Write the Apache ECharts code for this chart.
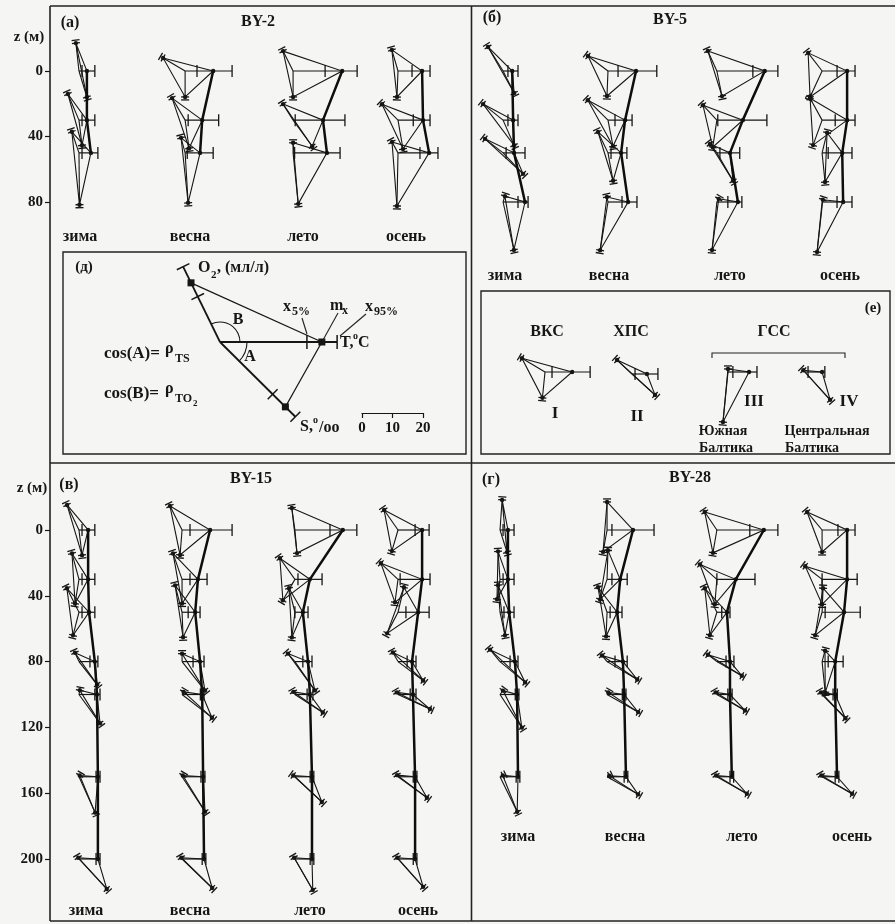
<!DOCTYPE html>
<html>
<head>
<meta charset="utf-8">
<script src="https://cdn.jsdelivr.net/npm/echarts@6/dist/echarts.min.js"></script>
<style>
html, body { margin: 0; padding: 0; background: #f5f5f3; }
#chart { width: 895px; height: 924px; }
</style>
</head>
<body>
<div id="chart"></div>
<script>
var seasons = ['зима', 'весна', 'лето', 'осень'];

// rows: depth (м), T mean, T 5%, T 95% (°C), S mean (‰), O2 mean (мл/л), rTS, rTO2
var by2Zima = [
    [0, 2.6, 1.0, 5.2, 8.9, 9.2, 0.29, -0.11],
    [30, 2.6, 1.0, 5.2, 8.3, 9.3, 0.12, -0.39],
    [50, 3.9, 1.0, 6.2, 17.0, 7.3, 0.01, -0.32]
];
var by2Vesna = [
    [0, 9.2, 3.9, 15.4, 8.5, 8.4, 0.0, -0.86],
    [30, 5.6, 1.0, 11.0, 9.3, 8.4, 0.14, -0.51],
    [50, 4.9, 0.7, 9.2, 16.4, 5.1, 0.06, -0.26]
];
var by2Leto = [
    [0, 16.1, 10.5, 21.0, 8.5, 7.3, 0.0, -0.45],
    [30, 9.8, 0.7, 17.0, 10.6, 6.2, 0.59, -0.53],
    [50, 11.1, 0.5, 15.4, 16.8, 3.3, 0.1, 0.0]
];
var by2Osen = [
    [0, 7.9, 4.6, 10.5, 8.5, 7.2, -0.04, -0.28],
    [30, 8.2, 5.0, 10.5, 9.6, 7.4, 0.17, -0.71],
    [50, 10.2, 7.2, 13.1, 17.4, 4.1, -0.02, -0.48]
];

var by5Zima = [
    [0, 3.0, 1.6, 4.9, 8.1, 9.3, 0.45, -0.53],
    [30, 3.3, 1.6, 4.9, 9.0, 8.4, 0.40, -0.78],
    [50, 3.6, 1.0, 7.2, 9.5, 7.5, 0.69, -0.79],
    [80, 7.2, 4.9, 8.2, 16.1, 2.0, 0.22, 0.3]
];
var by5Vesna = [
    [0, 9.2, 3.3, 16.0, 8.2, 8.2, -0.04, -0.8],
    [30, 5.6, 2.3, 7.9, 8.7, 9.3, 0.19, -0.71],
    [50, 4.3, 1.0, 6.2, 9.3, 7.6, 0.18, -0.43],
    [80, 6.6, 4.6, 9.5, 16.0, 1.7, -0.16, -0.2]
];
var by5Leto = [
    [0, 15.7, 11.8, 20.0, 8.4, 7.2, 0.2, -0.41],
    [30, 8.5, 0.3, 16.4, 9.0, 6.7, -0.15, -0.68],
    [50, 4.3, 1.0, 7.5, 10.6, 3.7, 0.5, -0.61],
    [80, 6.9, 3.6, 8.2, 15.8, 1.2, -0.1, 0.5]
];
var by5Osen = [
    [0, 8.2, 4.9, 10.8, 9.4, 7.5, -0.42, -0.61],
    [30, 8.2, 4.3, 10.8, 8.7, 8.2, -0.34, -0.48],
    [50, 6.6, 2.0, 9.8, 9.6, 6.8, 0.1, 0.24],
    [80, 6.9, 4.9, 9.8, 16.5, 0.8, -0.1, 0.3]
];

var by15Zima = [
    [0, 3.0, 1.0, 5.2, 8.3, 9.1, 0.12, -0.43],
    [30, 3.0, 1.0, 5.2, 8.0, 8.8, -0.16, -0.26],
    [50, 3.3, 1.0, 5.2, 7.8, 8.8, -0.25, -0.45],
    [80, 5.2, 3.6, 6.2, 9.6, 3.2, 0.62, -0.41],
    [100, 5.9, 5.2, 6.9, 11.7, 1.4, 0.59, 0.2],
    [150, 6.2, 5.6, 6.9, 12.9, 0.5, 0.41, 0.5],
    [200, 6.2, 5.6, 6.9, 13.4, 0.5, 0.68, -0.5]
];
var by15Vesna = [
    [0, 9.2, 2.6, 16.4, 8.2, 8.8, -0.08, -0.45],
    [30, 5.2, 2.6, 8.2, 7.9, 9.0, 0.0, -0.33],
    [50, 4.3, 2.0, 5.9, 8.2, 9.1, 0.04, -0.25],
    [80, 5.9, 3.6, 7.2, 12.1, 2.6, 0.62, 0.0],
    [100, 6.6, 6.0, 7.2, 12.4, 1.0, 0.79, 0.5],
    [150, 6.9, 6.2, 7.5, 13.7, 0.5, 0.55, 0.5],
    [200, 7.2, 6.6, 7.8, 13.7, 0.5, 0.72, -0.5]
];
var by15Leto = [
    [0, 15.7, 11.5, 20.3, 7.6, 7.3, 0.09, -0.14],
    [30, 4.9, 1.0, 8.9, 7.9, 8.5, -0.5, -0.58],
    [50, 2.6, 0.0, 4.3, 8.3, 8.1, -0.12, -0.24],
    [80, 4.3, 2.6, 5.6, 11.5, 3.5, 0.57, -0.66],
    [100, 4.9, 4.0, 5.9, 10.9, 1.0, 0.84, -0.5],
    [150, 5.6, 5.0, 6.2, 12.1, 0.7, 0.73, -0.8],
    [200, 5.6, 5.0, 6.2, 11.7, 0.5, 0.5, -0.5]
];
var by15Osen = [
    [0, 7.9, 5.6, 10.2, 7.2, 8.0, -0.28, -0.57],
    [30, 7.9, 0.7, 10.5, 7.6, 7.7, -0.13, -0.73],
    [50, 6.6, 2.6, 10.2, 7.8, 8.4, -0.46, 0.23],
    [80, 4.6, 3.0, 5.9, 10.3, 3.4, 0.8, -0.49],
    [100, 4.9, 4.0, 5.9, 11.5, 0.8, 0.91, -0.5],
    [150, 5.6, 5.0, 6.2, 11.7, 0.6, 0.81, -0.5],
    [200, 5.6, 5.0, 6.2, 12.3, 0.5, 0.67, -0.5]
];

var by28Zima = [
    [0, 2.6, 1.0, 4.6, 7.6, 9.9, 0.3, 0.07],
    [30, 2.6, 1.0, 4.6, 6.6, 9.2, -0.15, -0.07],
    [50, 3.0, 1.3, 4.6, 7.7, 8.9, 0.21, -0.07],
    [80, 4.9, 3.3, 5.9, 10.7, 5.1, 0.77, -0.64],
    [100, 5.6, 5.0, 6.2, 13.0, 1.6, 0.55, 0.6],
    [150, 5.9, 5.3, 6.5, 12.8, 1.0, 0.44, 0.9]
];
var by28Vesna = [
    [0, 8.5, 1.6, 15.4, 7.3, 9.2, -0.18, 0.0],
    [30, 4.3, 1.6, 6.6, 7.0, 9.5, -0.33, 0.03],
    [50, 3.3, 1.0, 4.9, 7.9, 8.7, -0.04, -0.34],
    [80, 5.2, 2.6, 6.6, 11.5, 2.6, 0.86, -0.64],
    [100, 5.6, 5.0, 6.2, 11.7, 0.8, 0.87, 0.5],
    [150, 6.2, 5.6, 6.8, 11.7, 0.8, 0.87, 0.9]
];
var by28Leto = [
    [0, 15.4, 10.8, 20.0, 7.6, 7.1, -0.17, -0.56],
    [30, 6.2, 0.0, 12.5, 8.2, 7.4, -0.08, -0.75],
    [50, 3.3, 1.6, 4.3, 7.9, 8.8, -0.29, -0.45],
    [80, 4.3, 3.0, 5.6, 9.4, 3.7, 0.87, -0.79],
    [100, 4.3, 3.6, 5.0, 10.6, 0.8, 0.87, -0.5],
    [150, 4.9, 4.3, 5.5, 11.3, 0.5, 0.87, -0.5]
];
var by28Osen = [
    [0, 8.2, 5.2, 10.8, 7.2, 7.7, 0.0, -0.64],
    [30, 8.2, 0.0, 11.5, 8.2, 7.0, 0.0, -0.79],
    [50, 7.2, 1.0, 12.5, 7.9, 7.9, -0.29, 0.04],
    [80, 4.3, 2.0, 6.9, 10.2, 3.7, 0.1, 0.26],
    [100, 4.3, 3.6, 5.0, 10.9, 0.8, 0.7, -0.5],
    [150, 4.9, 4.3, 5.5, 11.3, 0.5, 0.87, -0.5]
];

// water masses (е): T, T 5%, T 95%, S, O2, rTS, rTO2
var waterMassNames = ['I', 'II', 'III', 'IV'];
var waterMassGlyphs = [
    [8.9, 2.3, 14.8, 8.5, 8.8, -0.1, -0.86],
    [4.9, 1.0, 8.5, 10.2, 6.7, 0.74, -0.73],
    [6.9, 1.6, 9.5, 16.5, 1.0, -0.1, 0.0],
    [5.6, 1.0, 6.5, 12.3, 0.8, 0.67, -0.7]
];

// legend glyph (д): 5%, mean, 95%
var schemaT = [28.5, 33.4, 38.4];
var schemaS = [24.3, 30.2, 34.8];
var schemaO2 = [16.6, 21.6, 27.5];
var schemaR = [0.71, -0.44]; // rTS, rTO2

var scaleTicks = [0, 10, 20];

// ---- layout ----
var UNIT = 3.05;           // px per unit of T, S, O2
var INK = '#161616';
var FONT = '"Liberation Serif", "DejaVu Serif", serif';

var grids = [
    {left: 50, top: 5.5, width: 427, height: 262},      // а
    {left: 475, top: 5.5, width: 421, height: 262},     // б
    {left: 50, top: 464.2, width: 427, height: 460.6},  // в
    {left: 475, top: 464.2, width: 421, height: 460.6}, // г
    {left: 63, top: 252, width: 403, height: 202},      // д
    {left: 481, top: 291, width: 409, height: 163},     // е
    {left: 362, top: 412, width: 61, height: 1}         // scale bar
];
var basesA = [9.5, 44.3, 79.7, 114.1];
var basesB = [9.2, 43.6, 79.3, 113.8];
var basesV = [9.5, 43.3, 80.3, 114.1];
var basesG = [8.2, 43.3, 79.3, 113.8];
var waterMassAt = [[545, 372], [632, 374], [728, 372], [805, 372]];
var schemaAt = [220, 342];

function seg(a, b, w) {
    return {type: 'line', shape: {x1: a[0], y1: a[1], x2: b[0], y2: b[1]},
        style: {stroke: INK, lineWidth: w || 1.1}};
}

function drawGlyph(cx, cy, u, T, T5, T95, S, O2, rTS, rTO2) {
    var tEnd = [cx + T * u, cy];
    var sDir = [rTS, Math.sqrt(Math.max(0, 1 - rTS * rTS))];
    var oDir = [rTO2, -Math.sqrt(Math.max(0, 1 - rTO2 * rTO2))];
    var sEnd = [cx + sDir[0] * S * u, cy + sDir[1] * S * u];
    var oEnd = [cx + oDir[0] * O2 * u, cy + oDir[1] * O2 * u];
    var c = [cx, cy];
    var ch = [];
    ch.push(seg(c, [cx + Math.max(T, T95) * u, cy], 1.2));
    ch.push(seg(c, sEnd));
    ch.push(seg(c, oEnd));
    ch.push({type: 'polygon', shape: {points: [oEnd, tEnd, sEnd]},
        style: {stroke: INK, fill: 'none', lineWidth: 1.1}});
    [T5, T95].forEach(function (v) {
        var x = cx + v * u;
        ch.push(seg([x, cy - 6], [x, cy + 6], 1.3));
    });
    [[sEnd, sDir], [oEnd, oDir]].forEach(function (p) {
        var e = p[0], d = p[1], n = [-d[1], d[0]];
        for (var k = 0; k < 2; k++) {
            var q = [e[0] + d[0] * 3 * k, e[1] + d[1] * 3 * k];
            ch.push(seg([q[0] - n[0] * 4, q[1] - n[1] * 4], [q[0] + n[0] * 4, q[1] + n[1] * 4], 1.3));
        }
    });
    [tEnd, sEnd, oEnd].forEach(function (p) {
        ch.push({type: 'circle', shape: {cx: p[0], cy: p[1], r: 2.2}, style: {fill: INK}});
    });
    return {type: 'group', children: ch};
}

function renderGlyph(params, api) {
    var c = api.coord([api.value(0), api.value(1)]);
    var u = api.size([1, 0])[0];
    return drawGlyph(c[0], c[1], u, api.value(2), api.value(3), api.value(4),
        api.value(5), api.value(6), api.value(7), api.value(8));
}

function renderSchema(params, api) {
    var c = api.coord([api.value(0), api.value(1)]);
    var u = api.size([1, 0])[0];
    var cx = c[0], cy = c[1];
    var rays = [
        [schemaT, [1, 0]],
        [schemaS, [schemaR[0], Math.sqrt(1 - schemaR[0] * schemaR[0])]],
        [schemaO2, [schemaR[1], -Math.sqrt(1 - schemaR[1] * schemaR[1])]]
    ];
    var ch = [], means = [];
    rays.forEach(function (r) {
        var v = r[0], d = r[1], n = [-d[1], d[0]];
        var at = function (len) { return [cx + d[0] * len * u, cy + d[1] * len * u]; };
        ch.push(seg(c, at(v[2]), 1.8));
        [v[0], v[2]].forEach(function (len) {
            var p = at(len);
            ch.push(seg([p[0] - n[0] * 7, p[1] - n[1] * 7], [p[0] + n[0] * 7, p[1] + n[1] * 7], 1.5));
        });
        var m = at(v[1]);
        means.push(m);
        ch.push({type: 'rect', shape: {x: m[0] - 3.5, y: m[1] - 3.5, width: 7, height: 7}, style: {fill: INK}});
    });
    ch.push(seg(means[2], means[0], 1.2));
    ch.push(seg(means[0], means[1], 1.2));
    var aA = Math.acos(schemaR[0]), aB = Math.acos(schemaR[1]);
    ch.push({type: 'arc', shape: {cx: cx, cy: cy, r: 20, startAngle: -aB, endAngle: 0, clockwise: true},
        style: {stroke: INK, fill: 'none', lineWidth: 1.1}});
    ch.push({type: 'arc', shape: {cx: cx, cy: cy, r: 27, startAngle: 0, endAngle: aA, clockwise: true},
        style: {stroke: INK, fill: 'none', lineWidth: 1.1}});
    return {type: 'group', children: ch};
}

function panelSeries(gi, bases, seasonRows) {
    var out = [], data = [];
    seasonRows.forEach(function (rows, k) {
        rows.forEach(function (r) {
            data.push([bases[k], r[0], r[1], r[2], r[3], r[4], r[5], r[6], r[7]]);
        });
        out.push({
            type: 'line', xAxisIndex: gi, yAxisIndex: gi, silent: true, z: 4,
            symbol: 'none', lineStyle: {color: '#0e0e0e', width: 2.5},
            data: rows.map(function (r) { return [bases[k] + r[1], r[0]]; })
        });
    });
    out.unshift({type: 'custom', xAxisIndex: gi, yAxisIndex: gi, silent: true, z: 3,
        encode: {x: 0, y: 1}, data: data, renderItem: renderGlyph});
    return out;
}

function toUnits(gi, p) {
    return [(p[0] - grids[gi].left) / UNIT, (p[1] - grids[gi].top) / UNIT];
}

var series = [].concat(
    panelSeries(0, basesA, [by2Zima, by2Vesna, by2Leto, by2Osen]),
    panelSeries(1, basesB, [by5Zima, by5Vesna, by5Leto, by5Osen]),
    panelSeries(2, basesV, [by15Zima, by15Vesna, by15Leto, by15Osen]),
    panelSeries(3, basesG, [by28Zima, by28Vesna, by28Leto, by28Osen])
);
series.push({
    type: 'custom', xAxisIndex: 4, yAxisIndex: 4, silent: true, z: 3,
    encode: {x: 0, y: 1}, data: [toUnits(4, schemaAt)], renderItem: renderSchema
});
series.push({
    type: 'custom', xAxisIndex: 5, yAxisIndex: 5, silent: true, z: 3,
    encode: {x: 0, y: 1}, renderItem: renderGlyph,
    data: waterMassGlyphs.map(function (g, i) { return toUnits(5, waterMassAt[i]).concat(g); })
});

var labelFont = {fontFamily: FONT, fontWeight: 'bold', fontSize: 15, color: INK};
function depthAxis(gi, max, ticks, show) {
    return {
        gridIndex: gi, type: 'value', min: -40, max: max, inverse: true, show: show,
        axisLine: {show: false}, splitLine: {show: false},
        axisTick: {show: true, customValues: ticks, length: 5, lineStyle: {color: INK, width: 1.2}},
        axisLabel: Object.assign({customValues: ticks, margin: 7}, labelFont)
    };
}

var xAxes = grids.slice(0, 6).map(function (g, i) {
    return {gridIndex: i, type: 'value', min: 0, max: g.width / UNIT, show: false};
});
xAxes.push({
    gridIndex: 6, type: 'value', min: scaleTicks[0], max: scaleTicks[2], interval: 10, position: 'bottom',
    axisLine: {show: true, lineStyle: {color: INK, width: 1.2}},
    axisTick: {show: true, length: 5, lineStyle: {color: INK, width: 1.2}},
    axisLabel: Object.assign({margin: 8}, labelFont), splitLine: {show: false}
});
var yAxes = [
    depthAxis(0, 120, [0, 40, 80], true),
    depthAxis(1, 120, [0, 40, 80], false),
    depthAxis(2, 240, [0, 40, 80, 120, 160, 200], true),
    depthAxis(3, 240, [0, 40, 80, 120, 160, 200], false),
    {gridIndex: 4, type: 'value', min: 0, max: grids[4].height / UNIT, inverse: true, show: false},
    {gridIndex: 5, type: 'value', min: 0, max: grids[5].height / UNIT, inverse: true, show: false},
    {gridIndex: 6, type: 'value', min: 0, max: 1, show: false}
];

// ---- annotations ----
function txt(s, x, y, size, align) {
    return {type: 'text', x: x, y: y, silent: true, z: 10,
        style: {text: s, font: 'bold ' + size + 'px ' + FONT, fill: INK,
            textAlign: align || 'center', textVerticalAlign: 'middle',
            align: align || 'center', verticalAlign: 'middle'}};
}
function gline(x1, y1, x2, y2, w) {
    return {type: 'line', silent: true, z: 10, shape: {x1: x1, y1: y1, x2: x2, y2: y2},
        style: {stroke: '#222', lineWidth: w || 1.1}};
}
function grect(x, y, w, h) {
    return {type: 'rect', silent: true, z: 10, shape: {x: x, y: y, width: w, height: h},
        style: {stroke: '#222', fill: 'none', lineWidth: 1.4}};
}

var els = [
    gline(50, 6, 895, 6, 1.6), gline(50, 6, 50, 921, 1.6), gline(50, 921, 895, 921, 1.6),
    gline(471.5, 6, 471.5, 921, 1.6), gline(50, 463, 895, 463, 1.6),
    grect(63, 252, 403, 202), grect(481, 291, 409, 163),
    txt('(а)', 70, 23, 16), txt('BY-2', 258, 22, 16),
    txt('(б)', 492, 18, 16), txt('BY-5', 670, 20, 16),
    txt('(в)', 69, 485, 16), txt('BY-15', 251, 479, 16),
    txt('(г)', 491, 480, 16), txt('BY-28', 690, 478, 16),
    txt('z (м)', 29, 37, 15), txt('z (м)', 32, 488, 15)
];
var seasonLabelX = [[80, 190, 303, 406], [505, 609, 730, 840], [86, 190, 310, 418], [518, 625, 742, 852]];
var seasonLabelY = [237, 276, 911, 837];
seasonLabelX.forEach(function (xs, p) {
    xs.forEach(function (x, k) { els.push(txt(seasons[k], x, seasonLabelY[p], 16)); });
});

// inset (д)
els.push(
    txt('(д)', 84, 267, 15),
    txt('O', 198, 268, 16, 'left'), txt('2', 211, 275, 11, 'left'), txt(', (мл/л)', 217, 268, 16, 'left'),
    txt('x', 283, 307, 16, 'left'), txt('5%', 292, 312, 12, 'left'),
    txt('m', 330, 306, 16, 'left'), txt('x', 342, 311, 12, 'left'),
    txt('x', 365, 307, 16, 'left'), txt('95%', 374, 312, 12, 'left'),
    gline(302, 318, 307, 334), gline(338, 313, 323, 340), gline(366, 314, 340, 336),
    txt('T,', 340, 343, 16, 'left'), txt('o', 353, 336, 10, 'left'), txt('C', 358, 343, 16, 'left'),
    txt('B', 238, 320, 16), txt('A', 250, 357, 16),
    txt('cos(A)=', 104, 354, 17, 'left'), txt('ρ', 165, 349, 16, 'left'), txt('TS', 175, 359, 12, 'left'),
    txt('cos(B)=', 104, 394, 17, 'left'), txt('ρ', 165, 389, 16, 'left'), txt('TO', 175, 399, 12, 'left'),
    txt('2', 193, 404, 9, 'left'),
    txt('S,', 300, 427, 16, 'left'), txt('o', 313, 420, 10, 'left'), txt('/oo', 319, 428, 16, 'left')
);

// inset (е)
els.push(
    txt('(е)', 873, 308, 15),
    txt('ВКС', 547, 332, 16), txt('ХПС', 631, 332, 16), txt('ГСС', 774, 332, 16),
    {type: 'polyline', silent: true, z: 10, shape: {points: [[712, 358], [712, 353], [845, 353], [845, 358]]},
        style: {stroke: '#222', fill: 'none', lineWidth: 1.1}},
    txt(waterMassNames[0], 555, 414, 17), txt(waterMassNames[1], 637, 417, 17),
    txt(waterMassNames[2], 754, 402, 17), txt(waterMassNames[3], 849, 402, 17),
    txt('Южная', 723, 431, 14), txt('Балтика', 726, 448, 14),
    txt('Центральная', 827, 431, 14), txt('Балтика', 812, 448, 14)
);

var chart = echarts.init(document.getElementById('chart'));
chart.setOption({
    backgroundColor: '#f5f5f3',
    animation: false,
    grid: grids.map(function (g) { return Object.assign({outerBoundsMode: 'none', containLabel: false}, g); }),
    xAxis: xAxes,
    yAxis: yAxes,
    series: series,
    graphic: {elements: els}
});
</script>
</body>
</html>
